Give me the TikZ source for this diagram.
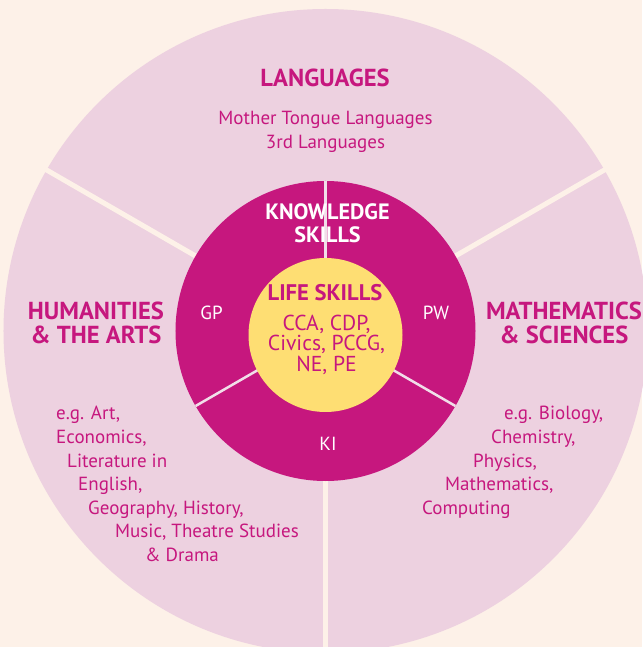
\documentclass[tikz,border=0pt]{standalone}
\usepackage{fontspec}
\setmainfont{PT Sans}
\usepackage{xcolor}

\definecolor{cream}{RGB}{253,241,232}
\definecolor{petal}{RGB}{237,209,224}
\definecolor{ring}{RGB}{198,23,126}
\definecolor{core}{RGB}{254,222,115}
\definecolor{seam}{RGB}{241,222,233}

\tikzset{
  head/.style={text=ring, font=\fontsize{24.6}{24}\selectfont\bfseries, align=center, inner sep=0pt},
  body/.style={text=ring, font=\fontsize{19}{23.5}\selectfont, inner sep=0pt},
  listline/.style={body, anchor=base west},
  ringtext/.style={text=white, font=\fontsize{19}{20}\selectfont, inner sep=0pt},
  outerseam/.style={draw=cream, line width=5pt},
  innerseam/.style={draw=seam, line width=2.5pt}
}

\begin{document}
\begin{tikzpicture}[x=1pt, y=1pt]
\useasboundingbox (-325.5,-316) rectangle (316.5,331);
\fill[cream] (-325.5,-316) rectangle (316.5,331);

% outer disc and its three sectors
\fill[petal] (0,0) circle (322);
\draw[outerseam] (150:140) -- (150:340);
\draw[outerseam] (30:140) -- (30:340);
\draw[outerseam] (270:140) -- (270:340);

% knowledge skills ring
\fill[ring] (0,0) circle (150);
\draw[innerseam] (0,0) -- (90:150);
\draw[innerseam] (0,0) -- (210:150);
\draw[innerseam] (0,0) -- (330:150);

% life skills core
\fill[core] (0,-4) circle (77);

\node[head] (lang) at (-0.5,253) {LANGUAGES};
\node[body, align=center] (langsub) at (0,199) {Mother Tongue Languages\\3rd Languages};

\node[head, text=white, font=\fontsize{22.2}{22.5}\selectfont\bfseries] (know) at (2,108) {KNOWLEDGE\\SKILLS};
\node[ringtext] (gp) at (-114,18) {GP};
\node[ringtext] (pw) at (110.5,18) {PW};
\node[ringtext] (ki) at (2.5,-113) {KI};

\node[head, font=\fontsize{22.6}{23}\selectfont\bfseries] (life) at (-0.5,38) {LIFE SKILLS};
\node[body, align=center, font=\fontsize{21.6}{20.5}\selectfont] (lifesub) at (1,-13.5) {CCA, CDP,\\Civics, PCCG,\\NE, PE};

\node[head] (hum) at (-229.5,8.5) {HUMANITIES\\\& THE ARTS};
\node[head] (math) at (238.5,8.5) {MATHEMATICS\\\& SCIENCES};

% humanities subjects
\node[listline] (huma) at (-269.5,-89) {e.g. Art,};
\node[listline] (humb) at (-269.5,-112.5) {Economics,};
\node[listline] (humc) at (-258.5,-136) {Literature in};
\node[listline] (humd) at (-247.5,-159.5) {English,};
\node[listline] (hume) at (-237.5,-183) {Geography, History,};
\node[listline] (humf) at (-210.5,-206.5) {Music, Theatre Studies};
\node[listline] (humg) at (-180.5,-230) {\& Drama};

% science subjects
\node[listline] (scia) at (178.5,-89) {e.g. Biology,};
\node[listline] (scib) at (165.5,-112.5) {Chemistry,};
\node[listline] (scic) at (147.5,-136) {Physics,};
\node[listline] (scid) at (119.5,-159.5) {Mathematics,};
\node[listline] (scie) at (96.5,-183) {Computing};
\end{tikzpicture}
\end{document}
